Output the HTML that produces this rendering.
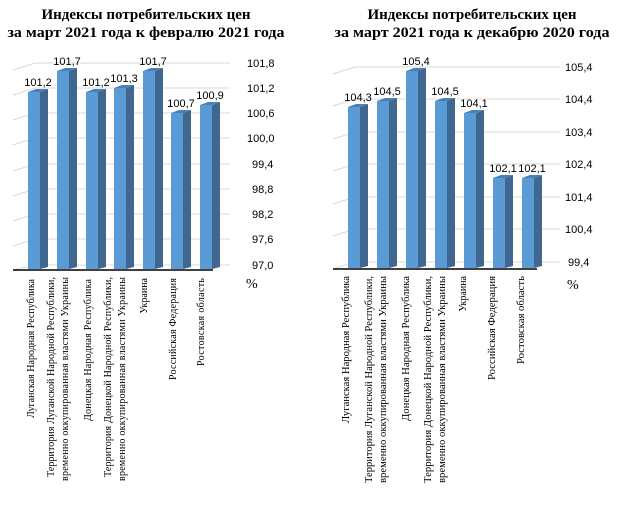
<!DOCTYPE html>
<html><head><meta charset="utf-8"><style>body{margin:0;background:#fff}svg{display:block}</style></head><body>
<svg width="623" height="513" xmlns="http://www.w3.org/2000/svg" font-family="Liberation Sans, sans-serif">
<g font-family="Liberation Serif, serif" font-weight="bold" font-size="15" text-anchor="middle" fill="#000">
<text x="146" y="19">Индексы потребительских цен</text>
<text x="146" y="37" textLength="277" lengthAdjust="spacingAndGlyphs">за март 2021 года к февралю 2021 года</text>
<text x="472" y="19">Индексы потребительских цен</text>
<text x="472" y="37" textLength="275" lengthAdjust="spacingAndGlyphs">за март 2021 года к декабрю 2020 года</text>
</g>
<!-- left grid -->
<g stroke="#d9d9d9" stroke-width="1" fill="none">
<path d="M13,70 L35,63 H230 M13,95 L35,88 H230 M13,120 L35,113 H230 M13,145 L35,138 H230 M13,171 L35,164 H230 M13,196 L35,189 H230 M13,221 L35,214 H230 M13,246 L35,239 H230 M13,270 L35,265 H230"/>
<path d="M333,74 L355,67 H560 M333,106 L355,99 H560 M333,139 L355,132 H560 M333,171 L355,164 H560 M333,204 L355,197 H560 M333,236 L355,229 H560 M333,269 L355,262 H560"/>
</g>
<line x1="13" y1="270" x2="213" y2="270" stroke="#000" stroke-width="1.5"/>
<line x1="333" y1="269" x2="537" y2="269" stroke="#000" stroke-width="1.5"/>
<g font-size="11" fill="#000">
<text x="247" y="67">101,8</text><text x="247" y="92">101,2</text><text x="247" y="117">100,6</text><text x="247" y="142">100,0</text>
<text x="252" y="168">99,4</text><text x="252" y="193">98,8</text><text x="252" y="218">98,2</text><text x="252" y="243">97,6</text><text x="252" y="269">97,0</text>
<text x="565" y="71">105,4</text><text x="565" y="103">104,4</text><text x="565" y="136">103,4</text><text x="565" y="168">102,4</text><text x="565" y="201">101,4</text><text x="565" y="233">100,4</text><text x="568" y="266">99,4</text>
</g>
<text x="246" y="288" font-family="Liberation Serif, serif" font-size="14">%</text>
<text x="567" y="289" font-family="Liberation Serif, serif" font-size="14">%</text>
<!-- bars -->
<g>
<defs>
<g id="b"></g>
</defs>
</g>
<g id="bars">
</g>
<script>
(function(){
var ns="http://www.w3.org/2000/svg",g=document.getElementById("bars");
function bar(x,top,base,lab){
 var f=document.createElementNS(ns,"rect");f.setAttribute("x",x);f.setAttribute("y",top);f.setAttribute("width",12);f.setAttribute("height",base-top);f.setAttribute("fill","#5b9bd5");g.appendChild(f);
 var s=document.createElementNS(ns,"polygon");s.setAttribute("points",(x+12)+","+top+" "+(x+20)+","+(top-3)+" "+(x+20)+","+(base-2)+" "+(x+12)+","+base);s.setAttribute("fill","#3f6790");g.appendChild(s);
 var t=document.createElementNS(ns,"polygon");t.setAttribute("points",x+","+top+" "+(x+8)+","+(top-3)+" "+(x+20)+","+(top-3)+" "+(x+12)+","+top);t.setAttribute("fill","#4a80b4");g.appendChild(t);
 var l=document.createElementNS(ns,"text");l.setAttribute("x",x+10);l.setAttribute("y",top-6);l.setAttribute("text-anchor","middle");l.setAttribute("font-size","11");l.textContent=lab;g.appendChild(l);
}
var L=[[28,92,"101,2"],[57,71,"101,7"],[86,92,"101,2"],[114,88,"101,3"],[143,71,"101,7"],[171,113,"100,7"],[200,105,"100,9"]];
L.forEach(function(a){bar(a[0],a[1],269,a[2]);});
var R=[[348,107,"104,3"],[377,101,"104,5"],[406,71,"105,4"],[435,101,"104,5"],[464,113,"104,1"],[493,178,"102,1"],[522,178,"102,1"]];
R.forEach(function(a){bar(a[0],a[1],268,a[2]);});
})();
</script>
<g font-family="Liberation Serif, serif" font-size="10" fill="#000" text-anchor="end">
<text transform="translate(34,279) rotate(-90)" textLength="139" lengthAdjust="spacing">Луганская Народная Республика</text>
<text transform="translate(54,277) rotate(-90)" textLength="200" lengthAdjust="spacing">Территория Луганской Народной Республики,</text>
<text transform="translate(68,277) rotate(-90)" textLength="204" lengthAdjust="spacing">временно оккупированная властями Украины</text>
<text transform="translate(91,279) rotate(-90)" textLength="142" lengthAdjust="spacing">Донецкая Народная Республика</text>
<text transform="translate(111,277) rotate(-90)" textLength="200" lengthAdjust="spacing">Территория Донецкой Народной Республики,</text>
<text transform="translate(125,277) rotate(-90)" textLength="204" lengthAdjust="spacing">временно оккупированная властями Украины</text>
<text transform="translate(147,278) rotate(-90)">Украина</text>
<text transform="translate(176,278) rotate(-90)" textLength="102" lengthAdjust="spacing">Российская Федерация</text>
<text transform="translate(204,278) rotate(-90)" textLength="88" lengthAdjust="spacing">Ростовская область</text>

<text transform="translate(349,276) rotate(-90)" textLength="147" lengthAdjust="spacingAndGlyphs">Луганская Народная Республика</text>
<text transform="translate(372,276) rotate(-90)" textLength="207" lengthAdjust="spacingAndGlyphs">Территория Луганской Народной Республики,</text>
<text transform="translate(386,276) rotate(-90)" textLength="207" lengthAdjust="spacingAndGlyphs">временно оккупированная властями Украины</text>
<text transform="translate(409,276) rotate(-90)" textLength="145" lengthAdjust="spacingAndGlyphs">Донецкая Народная Республика</text>
<text transform="translate(431,276) rotate(-90)" textLength="207" lengthAdjust="spacingAndGlyphs">Территория Донецкой Народной Республики,</text>
<text transform="translate(445,276) rotate(-90)" textLength="207" lengthAdjust="spacingAndGlyphs">временно оккупированная властями Украины</text>
<text transform="translate(466,276) rotate(-90)">Украина</text>
<text transform="translate(495,276) rotate(-90)" textLength="104" lengthAdjust="spacingAndGlyphs">Российская Федерация</text>
<text transform="translate(524,276) rotate(-90)" textLength="88" lengthAdjust="spacingAndGlyphs">Ростовская область</text>
</g>
</svg>
</body></html>
